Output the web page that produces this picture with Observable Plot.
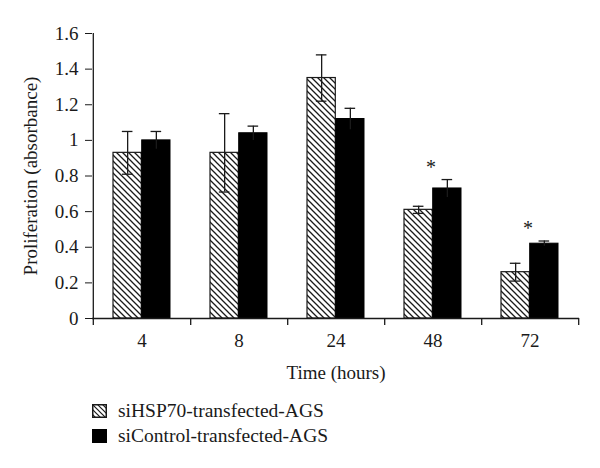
<!DOCTYPE html>
<html><head><meta charset="utf-8">
<script src="https://cdn.jsdelivr.net/npm/d3@7"></script>
<script src="https://cdn.jsdelivr.net/npm/@observablehq/plot@0.6"></script>
<style>
body{margin:0;background:#fff;font-family:"Liberation Serif",serif;color:#1a1a1a;}
#legend{margin-left:92px;margin-top:3px;font-size:19.5px;}
.row{display:flex;align-items:center;height:25px;}
.sw{width:15px;height:14px;margin-right:11px;display:block;}
</style></head><body><div id="chart"></div><div id="legend"></div>
<script>
// ---- data ----
const times = ["4", "8", "24", "48", "72"];
const seriesNames = ["siHSP70-transfected-AGS", "siControl-transfected-AGS"];
const hspMean = [0.93, 0.93, 1.35, 0.61, 0.26];
const hspErr  = [0.12, 0.22, 0.13, 0.02, 0.05];
const ctlMean = [1.00, 1.04, 1.12, 0.73, 0.42];
const ctlErr  = [0.05, 0.04, 0.06, 0.05, 0.015];
const significant = ["48", "72"];
const yTicks = [0, 0.2, 0.4, 0.6, 0.8, 1, 1.2, 1.4, 1.6];
const xLabel = "Time (hours)";
const yLabel = "Proliferation (absorbance)";

const hsp = times.map((t, i) => ({time: t, mean: hspMean[i], err: hspErr[i]}));
const ctl = times.map((t, i) => ({time: t, mean: ctlMean[i], err: ctlErr[i]}));
const stars = ctl.filter(d => significant.includes(d.time));

const W = 600, H = 395, ML = 92, MR = 21, MT = 33, MB = 77;
const half = (W - ML - MR) / times.length / 2;   // half band
const barW = 28.7;
const outer = half - barW;                        // gap from band edge to group
const capHalf = 5.5;
const ink = "#1a1a1a";

const chart = Plot.plot({
  width: W, height: H,
  marginLeft: ML, marginRight: MR, marginTop: MT, marginBottom: MB,
  style: {fontFamily: '"Liberation Serif", serif', fontSize: "19px", color: ink, background: "white"},
  x: {domain: times, padding: 0},
  y: {domain: [0, 1.6]},
  marks: [
    Plot.axisX({tickSize: 0, tickPadding: 15, fontSize: 19, label: xLabel, labelAnchor: "center",
      labelOffset: 60, labelArrow: "none"}),
    Plot.axisY(yTicks, {tickSize: 7, tickPadding: 7, tickFormat: d => `${d}`, fontSize: 19,
      label: yLabel, labelAnchor: "center", labelOffset: 69, labelArrow: "none"}),
    Plot.barY(hsp, {x: "time", y: "mean", fill: "url(#hatch)", stroke: ink, strokeWidth: 1.2,
      insetLeft: outer, insetRight: half}),
    Plot.barY(ctl, {x: "time", y: "mean", fill: "#000", stroke: "#000", strokeWidth: 1,
      insetLeft: half, insetRight: outer}),
    // error bars
    Plot.ruleX(hsp, {x: "time", y1: d => d.mean - d.err, y2: d => d.mean + d.err, dx: -barW / 2, stroke: ink, strokeWidth: 1.3}),
    Plot.ruleX(ctl, {x: "time", y1: d => d.mean - d.err, y2: d => d.mean + d.err, dx: barW / 2, stroke: ink, strokeWidth: 1.3}),
    Plot.tickY(hsp, {x: "time", y: d => d.mean + d.err, stroke: ink, strokeWidth: 1.3,
      insetLeft: half - barW / 2 - capHalf, insetRight: half + barW / 2 - capHalf}),
    Plot.tickY(hsp, {x: "time", y: d => d.mean - d.err, stroke: ink, strokeWidth: 1.3,
      insetLeft: half - barW / 2 - capHalf, insetRight: half + barW / 2 - capHalf}),
    Plot.tickY(ctl, {x: "time", y: d => d.mean + d.err, stroke: ink, strokeWidth: 1.3,
      insetLeft: half + barW / 2 - capHalf, insetRight: half - barW / 2 - capHalf}),
    // significance stars
    Plot.text(stars, {x: "time", y: d => d.mean + d.err, text: () => "*", dx: -2, dy: -12, fontSize: 20, fill: ink}),
    // axes lines
    Plot.ruleY([0], {stroke: ink, strokeWidth: 1.3}),
    Plot.ruleX([times[0]], {x: d => d, dx: -half, y1: 1.6, y2: 0, insetBottom: -7, stroke: ink, strokeWidth: 1.3}),
    Plot.ruleX(times, {x: d => d, dx: half, y1: 0, y2: 0, insetBottom: -7, stroke: ink, strokeWidth: 1.3})
  ]
});

const defs = d3.select(chart).insert("defs", ":first-child");
const pat = defs.append("pattern").attr("id", "hatch").attr("patternUnits", "userSpaceOnUse")
  .attr("width", 6).attr("height", 6);
pat.append("rect").attr("width", 6).attr("height", 6).attr("fill", "white");
pat.append("path").attr("d", "M0,0L6,6M-1,5L1,7M5,-1L7,1").attr("stroke", ink).attr("stroke-width", 1.3);

document.getElementById("chart").append(chart);

// legend
const legend = d3.select("#legend");
seriesNames.forEach((name, i) => {
  const row = legend.append("div").attr("class", "row");
  const sw = row.append("svg").attr("class", "sw").attr("width", 15).attr("height", 14);
  if (i === 0) {
    const p = sw.append("defs").append("pattern").attr("id", "hatchLeg").attr("patternUnits", "userSpaceOnUse")
      .attr("width", 5).attr("height", 5);
    p.append("rect").attr("width", 5).attr("height", 5).attr("fill", "white");
    p.append("path").attr("d", "M0,0L5,5M-1,4L1,6M4,-1L6,1").attr("stroke", ink).attr("stroke-width", 1.2);
    sw.append("rect").attr("x", 0.75).attr("y", 0.75).attr("width", 13.5).attr("height", 12.5)
      .attr("fill", "url(#hatchLeg)").attr("stroke", ink).attr("stroke-width", 1.5);
  } else {
    sw.append("rect").attr("width", 15).attr("height", 14).attr("fill", "#000");
  }
  row.append("span").text(name);
});
</script></body></html>
